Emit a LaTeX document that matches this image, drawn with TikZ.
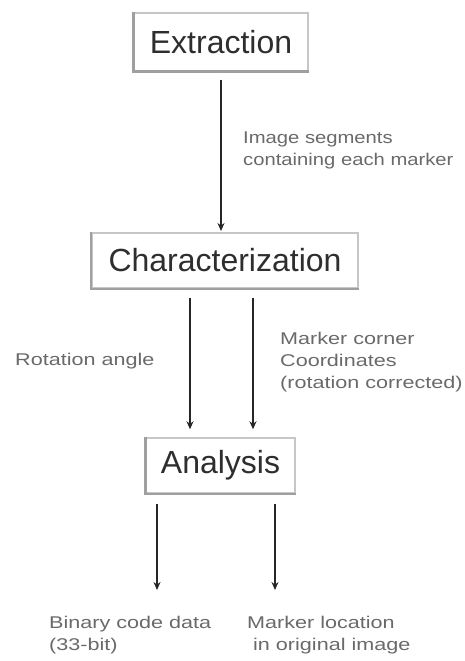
\documentclass[tikz,border=0pt]{standalone}
\usepackage{fontspec}
\setmainfont{Liberation Sans}
\usetikzlibrary{arrows.meta}
\definecolor{bigtxt}{HTML}{2E2E2E}
\definecolor{smalltxt}{HTML}{6A6A6A}
\tikzset{
  stagebox/.style={draw=gray!45, line width=1.5bp, fill=white, inner sep=0pt,
    font=\fontsize{32bp}{36bp}\selectfont, text=bigtxt},
  lbl/.style={font=\fontsize{17bp}{22bp}\selectfont, text=smalltxt, align=left, inner sep=0pt},
  flow/.style={line width=2bp, draw=black!85, -{Stealth[length=8bp,width=7bp]}},
}
\newcommand{\wide}[1]{\scalebox{1.27}[1]{#1}}
\newcommand{\semiwide}[1]{\scalebox{1.19}[1]{#1}}
\begin{document}
\begin{tikzpicture}[x=1bp,y=-1bp]
\useasboundingbox (0,0) rectangle (465,661);
\fill[white] (0,0) rectangle (465,661);
% boxes
\node[stagebox, minimum width=174bp, minimum height=58bp] (ext) at (221,42) {Extraction};
\node[stagebox, minimum width=266bp, minimum height=55bp] (char) at (225,260.5) {Characterization};
\node[stagebox, minimum width=149bp, minimum height=55bp] (ana) at (220.5,465.5) {Analysis};
% shadow edges
\foreach \n in {ext,char,ana}{
  \draw[gray!75, line width=2.5bp] (\n.north west) -- (\n.south west) -- (\n.south east);
}
% free ends
\coordinate (o1) at (157,590);
\coordinate (o2) at (275,590);
% connectors
\draw[flow] (ext.south -| 221,0) ++(0,8) -- (221,231);
\draw[flow] ([yshift=-9bp]char.south -| 190,0) -- ([yshift=8bp]ana.north -| 190,0);
\draw[flow] ([yshift=-9bp]char.south -| 253,0) -- ([yshift=8bp]ana.north -| 253,0);
\draw[flow] ([yshift=-10bp]ana.south -| o1) -- (o1);
\draw[flow] ([yshift=-10bp]ana.south -| o2) -- (o2);
% labels
\node[lbl, anchor=west] (l1) at (243,150) {\semiwide{Image segments}\\\semiwide{containing each marker}};
\node[lbl, anchor=west] (l2) at (15,361) {\wide{Rotation angle}};
\node[lbl, anchor=west] (l3) at (280,362) {\wide{Marker corner}\\\wide{Coordinates}\\\wide{(rotation corrected)}};
\node[lbl, anchor=west] (l4) at (49,635) {\wide{Binary code data}\\\wide{(33-bit)}};
\node[lbl, anchor=west] (l5) at (247,635) {\wide{Marker location}\\\wide{ in original image}};
\end{tikzpicture}
\end{document}
